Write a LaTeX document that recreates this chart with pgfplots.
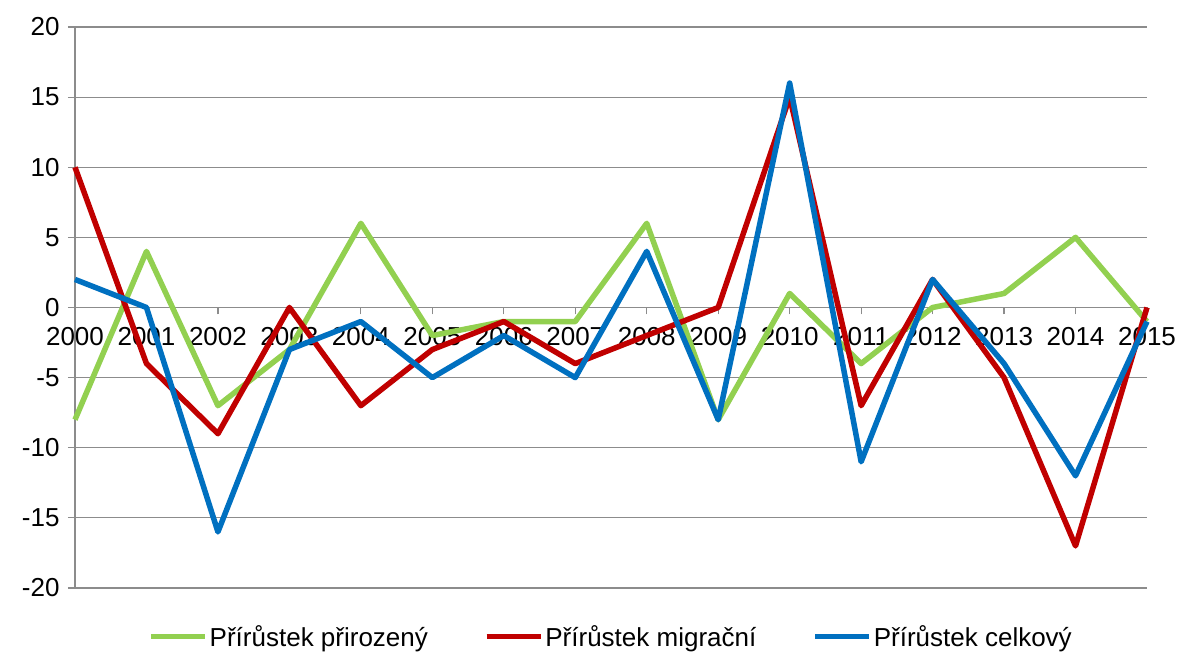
\documentclass[border=0pt]{standalone}
\usepackage{pgfplots}
\pgfplotsset{compat=1.18}
\usepackage{fontspec}
\setmainfont{Liberation Sans}
\definecolor{cgreen}{RGB}{146,208,80}
\definecolor{cred}{RGB}{192,0,0}
\definecolor{cblue}{RGB}{0,112,192}
\definecolor{cgrid}{RGB}{140,140,140}
\begin{document}
\begin{tikzpicture}
\begin{axis}[
  scale only axis, width=1072bp, height=561bp,
  xmin=0, xmax=15, ymin=-20, ymax=20,
  axis x line=middle, axis y line=left,
  hide obscured x ticks=false,
  axis line style={-, draw=cgrid, line width=1.2bp},
  xtick={0,...,15},
  xticklabels={2000,2001,2002,2003,2004,2005,2006,2007,2008,2009,2010,2011,2012,2013,2014,2015},
  ytick={-20,-15,...,20},
  ymajorgrids, grid style={cgrid, line width=1.2bp},
  tick style={cgrid, line width=1.2bp},
  major tick length=7bp,
  xtick align=outside, ytick align=outside,
  tick label style={font=\fontsize{26bp}{30bp}\selectfont},
  xticklabel style={yshift=-9bp},
  yticklabel style={xshift=-5bp},
  /pgf/number format/assume math mode=true,
  legend style={at={(0.5,-0.059)}, anchor=north, draw=none, fill=none,
    legend columns=3, font=\fontsize{26bp}{30bp}\selectfont,
    /tikz/every even column/.append style={column sep=54bp},
    /tikz/every odd column/.append style={column sep=0bp}},
  legend image code/.code={\draw[#1] (0bp,0bp) -- (54bp,0bp);},
  every axis plot/.append style={line width=5.5bp, line join=round},
  clip=false,
]
\addplot[cgreen] coordinates {(0,-8)(1,4)(2,-7)(3,-3)(4,6)(5,-2)(6,-1)(7,-1)(8,6)(9,-8)(10,1)(11,-4)(12,0)(13,1)(14,5)(15,-1)};
\addplot[cred] coordinates {(0,10)(1,-4)(2,-9)(3,0)(4,-7)(5,-3)(6,-1)(7,-4)(8,-2)(9,0)(10,15)(11,-7)(12,2)(13,-5)(14,-17)(15,0)};
\addplot[cblue] coordinates {(0,2)(1,0)(2,-16)(3,-3)(4,-1)(5,-5)(6,-2)(7,-5)(8,4)(9,-8)(10,16)(11,-11)(12,2)(13,-4)(14,-12)(15,-1)};
\legend{Přírůstek přirozený, Přírůstek migrační, Přírůstek celkový}
\end{axis}
\pgfresetboundingbox
\path (current axis.south west) ++(-75bp,-65bp) rectangle ([xshift=34bp,yshift=27bp]current axis.north east);
\end{tikzpicture}
\end{document}
